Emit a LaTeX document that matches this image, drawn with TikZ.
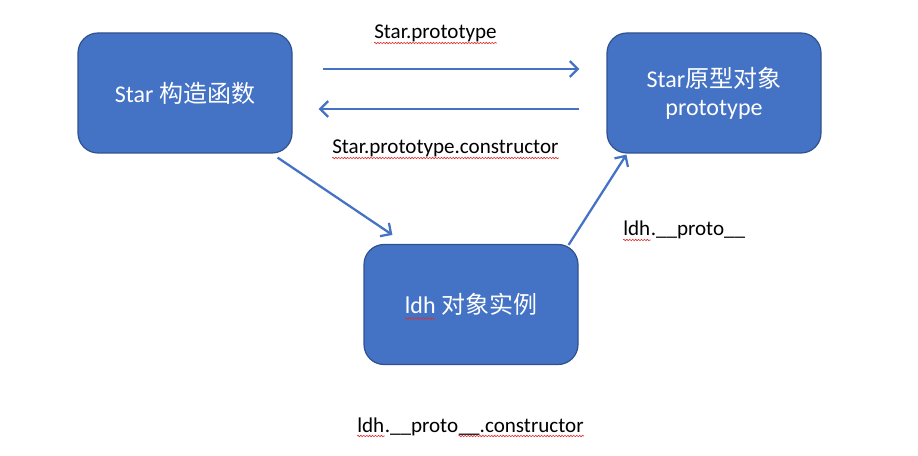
\documentclass[tikz,border=0pt]{standalone}
\usepackage{fontspec}
\setmainfont{Carlito}
\newfontfamily\cjk{Noto Sans CJK SC}
\usetikzlibrary{arrows.meta,calc,decorations.pathmorphing}
\definecolor{boxfill}{HTML}{4472C4}
\definecolor{boxline}{HTML}{2F528F}
\definecolor{squig}{HTML}{E03030}
\begin{document}
\begin{tikzpicture}[x=0.75pt,y=-0.75pt,
  box/.style={draw=boxline,line width=0.9pt,fill=boxfill,rounded corners=15pt,
    minimum width=160.5pt,minimum height=90pt,text=white,font=\fontsize{18}{21}\selectfont,
    align=center,inner sep=0pt},
  lbl/.style={font=\fontsize{15.8}{18}\selectfont,text=black,inner sep=0pt,anchor=base west},
  wave/.style={draw=squig,line width=0.45pt,decorate,decoration={snake,amplitude=0.55pt,segment length=2.2pt}},
  conn/.style={draw=boxfill,line width=1.7pt,-{Straight Barb[length=6pt,width=12pt,line width=1.7pt]}}]
\useasboundingbox (0,0) rectangle (918,456);
\node[box] (a) at (185,93) {Star {\cjk 构造函数}};
\node[box] (b) at (714,93) {Star{\cjk 原型对象}\\prototype};
\node[box] (c) at (471,304.5) {ldh {\cjk 对象实例}};
\draw[wave] ($(c.center)+(-66,14)$) -- ($(c.center)+(-36,14)$);
% labels
\node[lbl] (l1) at (374,39) {Star.prototype};
\draw[wave] ($(l1.base west)+(0,4)$) -- ($(l1.base east)+(0,4)$);
\node[lbl] (l2) at (332,154) {Star.prototype.constructor};
\draw[wave] ($(l2.base west)+(0,4)$) -- ($(l2.base east)+(0,4)$);
\node[lbl] (l3a) at (623,236) {ldh};
\node[lbl] (l3b) at (l3a.base east) {.\_\_proto\_\_};
\draw[wave] ($(l3a.base west)+(0,4)$) -- ($(l3a.base east)+(0,4)$);
\node[lbl] (l4a) at (357,432) {ldh};
\node[lbl] (l4b) at (l4a.base east) {.\_\_proto};
\node[lbl] (l4c) at (l4b.base east) {\_\_.constructor};
\draw[wave] ($(l4a.base west)+(0,4)$) -- ($(l4a.base east)+(0,4)$);
\draw[wave] ($(l4c.base west)+(0,4)$) -- ($(l4c.base east)+(0,4)$);
% connectors
\draw[conn] ($(a.east)+(30,-24)$) -- ($(b.west)+(-27,-24)$);
\draw[conn] ($(b.west)+(-27,16)$) -- ($(a.east)+(26,16)$);
\draw[conn] ($(a.south east)+(-15,4)$) -- ($(c.north west)+(29,-9)$);
\draw[conn] ($(c.north east)+(-10,1)$) -- ($(b.south west)+(20,1)$);
\end{tikzpicture}
\end{document}
